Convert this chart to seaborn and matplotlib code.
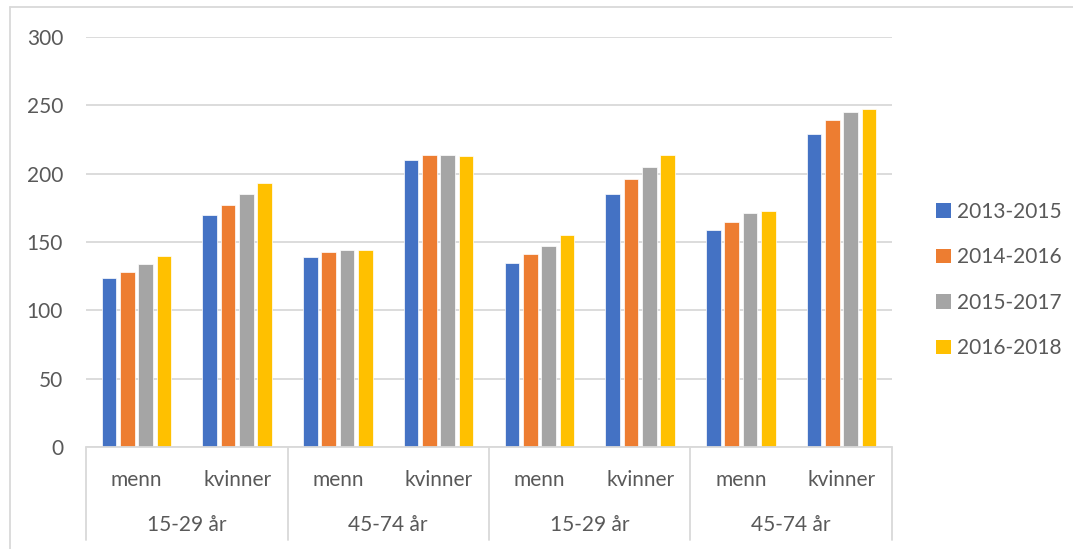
import matplotlib
matplotlib.use("Agg")
import matplotlib.pyplot as plt
from matplotlib.lines import Line2D
from matplotlib.patches import Patch
import matplotlib.transforms as mtransforms
import seaborn as sns
import pandas as pd

# ---- data ----
group_labels = ["15-29 år", "45-74 år", "15-29 år", "45-74 år"]
sub_labels = ["menn", "kvinner"]
series = ["2013-2015", "2014-2016", "2015-2017", "2016-2018"]
colors = ["#4472C4", "#ED7D31", "#A5A5A5", "#FFC000"]

v_2013_2015 = [124, 170, 139, 210, 135, 185, 159, 229]
v_2014_2016 = [128, 177, 143, 214, 141, 196, 165, 239]
v_2015_2017 = [134, 185, 144, 214, 147, 205, 171, 245]
v_2016_2018 = [140, 193, 144, 213, 155, 214, 173, 247]
values = [v_2013_2015, v_2014_2016, v_2015_2017, v_2016_2018]

y_ticks = [0, 50, 100, 150, 200, 250, 300]

# ---- build table ----
cats = []
cat_sub = []
for gi, g in enumerate(group_labels):
    for s in sub_labels:
        cats.append(f"{gi}|{g}|{s}")
        cat_sub.append(s)

rows = []
for si, s in enumerate(series):
    for ci, c in enumerate(cats):
        rows.append({"cat": c, "series": s, "value": values[si][ci]})
df = pd.DataFrame(rows)

sns.set_theme(style="white")
plt.rcParams["font.family"] = ["Lato", "DejaVu Sans"]
text_color = "#595959"
grid_color = "#d9d9d9"
fs = 15

fig = plt.figure(figsize=(10.73, 5.49), dpi=100)
ax = fig.add_axes([86 / 1073, 1 - 447 / 549, (892 - 86) / 1073, (447 - 37) / 549])

sns.barplot(data=df, x="cat", y="value", hue="series", order=cats,
            hue_order=series, palette=colors, width=0.727, gap=0.2,
            saturation=1, ax=ax, legend=False, edgecolor="white", linewidth=0.5)

ax.set_ylim(0, 300)
ax.set_xlim(-0.5, len(cats) - 0.5)
ax.set_yticks(y_ticks)
ax.set_yticklabels([str(t) for t in y_ticks], fontsize=fs, color=text_color)
ax.tick_params(axis="y", length=0, pad=16.5)
ax.set_xticks([])
ax.set_xlabel("")
ax.set_ylabel("")
for sp in ax.spines.values():
    sp.set_visible(False)
ax.yaxis.grid(True, color=grid_color, linewidth=1.3)
ax.set_axisbelow(True)

# category axis
trans = mtransforms.blended_transform_factory(ax.transData, ax.transAxes)
ax_h = 410.0
ax.plot([-0.5, len(cats) - 0.5], [0, 0], transform=trans, color=grid_color,
        lw=1.3, clip_on=False, zorder=3)
for b in range(len(group_labels) + 1):
    xb = -0.5 + 2 * b
    ax.plot([xb, xb], [0, -93 / ax_h], transform=trans, color=grid_color,
            lw=1.3, clip_on=False)
for ci, s in enumerate(cat_sub):
    ax.text(ci, -33 / ax_h, s, transform=trans, ha="center", va="center",
            fontsize=fs, color=text_color)
for gi, g in enumerate(group_labels):
    ax.text(2 * gi + 0.5, -78 / ax_h, g, transform=trans, ha="center",
            va="center", fontsize=fs, color=text_color)

# legend
handles = [Patch(facecolor=c, edgecolor="none") for c in colors]
leg = fig.legend(handles, series, loc="center left",
                 bbox_to_anchor=(926 / 1073, 1 - 280 / 549), frameon=False,
                 fontsize=fs, handlelength=0.68, handleheight=0.68,
                 handletextpad=0.3, labelspacing=1.22, borderpad=0)
for t in leg.get_texts():
    t.set_color(text_color)

# outer chart frame
fig.add_artist(Line2D([10 / 1073, 1], [1 - 7 / 549, 1 - 7 / 549],
                      transform=fig.transFigure, color=grid_color, lw=1.3))
fig.add_artist(Line2D([10 / 1073, 10 / 1073], [0, 1 - 7 / 549],
                      transform=fig.transFigure, color=grid_color, lw=1.3))

fig.savefig("out.png", dpi=100)
